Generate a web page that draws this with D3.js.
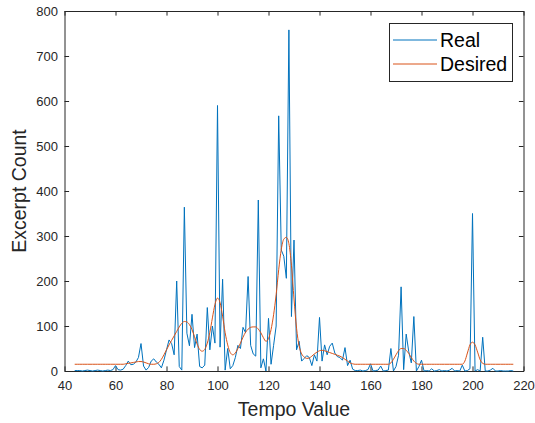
<!DOCTYPE html>
<html lang="en">
<head>
    <meta charset="UTF-8">
    <title>Tempo histogram</title>
    <script src="https://cdn.jsdelivr.net/npm/d3@7"></script>
    <style>
        body { margin: 0; background: #fff; }
        svg { display: block; font-family: Arial, "Liberation Sans", sans-serif; }
        .tick text { font-size: 13px; fill: #262626; }
    </style>
</head>
<body>
    <div id="chart"></div>
    <script>
        const w = 535;
        const h = 423;
        const margin = { top: 11, right: 11.5, bottom: 52, left: 64.5 };

        // tempo values (x), one per bpm
        const tempos = [
            44, 45, 46, 47, 48, 49, 50, 51, 52, 53,
            54, 55, 56, 57, 58, 59, 60, 61, 62, 63,
            64, 65, 66, 67, 68, 69, 70, 71, 72, 73,
            74, 75, 76, 77, 78, 79, 80, 81, 82, 83,
            84, 85, 86, 87, 88, 89, 90, 91, 92, 93,
            94, 95, 96, 97, 98, 99, 100, 101, 102, 103,
            104, 105, 106, 107, 108, 109, 110, 111, 112, 113,
            114, 115, 116, 117, 118, 119, 120, 121, 122, 123,
            124, 125, 126, 127, 128, 129, 130, 131, 132, 133,
            134, 135, 136, 137, 138, 139, 140, 141, 142, 143,
            144, 145, 146, 147, 148, 149, 150, 151, 152, 153,
            154, 155, 156, 157, 158, 159, 160, 161, 162, 163,
            164, 165, 166, 167, 168, 169, 170, 171, 172, 173,
            174, 175, 176, 177, 178, 179, 180, 181, 182, 183,
            184, 185, 186, 187, 188, 189, 190, 191, 192, 193,
            194, 195, 196, 197, 198, 199, 200, 201, 202, 203,
            204, 205, 206, 207, 208, 209, 210, 211, 212, 213,
            214, 215, 216
        ];

        // excerpt counts, real
        const real = [
            1, 1, 1, 0, 1, 2, 1, 0, 1, 2,
            1, 0, 1, 2, 1, 3, 12, 3, 2, 4,
            12, 22, 14, 15, 20, 30, 61, 11, 2, 8,
            22, 27, 20, 15, 7, 24, 47, 69, 61, 36,
            200, 10, 2, 364, 84, 56, 126, 52, 82, 10,
            7, 13, 141, 47, 100, 62, 590, 53, 204, 2,
            50, 5, 12, 30, 57, 50, 97, 85, 210, 57,
            38, 33, 380, 7, 27, 0, 117, 15, 57, 100,
            567, 269, 255, 206, 758, 121, 291, 47, 66, 22,
            28, 34, 30, 12, 36, 22, 119, 22, 58, 36,
            55, 62, 40, 32, 30, 24, 52, 12, 24, 4,
            1, 1, 2, 0, 1, 3, 16, 0, 1, 2,
            11, 0, 1, 2, 50, 0, 10, 35, 187, 3,
            82, 43, 18, 121, 0, 10, 24, 0, 1, 0,
            5, 0, 1, 3, 0, 1, 0, 2, 6, 0,
            1, 0, 13, 0, 1, 5, 350, 0, 3, 0,
            75, 0, 0, 2, 6, 0, 0, 1, 0, 0,
            0, 1, 0
        ];

        // excerpt counts, desired
        const desired = [
            15, 15, 15, 15, 15, 15, 15, 15, 15, 15,
            15, 15, 15, 15, 15, 15, 15, 15, 15, 15,
            16, 17, 18, 19, 20, 21, 21, 20, 18, 16,
            15, 15, 16, 19, 26, 36, 47, 58, 68, 78,
            88, 98, 106, 110, 109, 103, 92, 76, 60, 48,
            44, 48, 62, 86, 118, 148, 162, 152, 122, 85,
            58, 41, 36, 40, 50, 62, 75, 86, 93, 97,
            98, 98, 93, 85, 74, 66, 72, 92, 125, 170,
            225, 270, 293, 297, 283, 235, 160, 95, 56, 38,
            31, 28, 29, 33, 38, 42, 45, 46, 45, 43,
            41, 39, 37, 35, 33, 30, 26, 22, 18, 16,
            15, 15, 15, 15, 15, 15, 15, 15, 15, 15,
            15, 15, 15, 15, 18, 26, 36, 45, 50, 50,
            46, 39, 30, 22, 17, 15, 15, 15, 15, 15,
            15, 15, 15, 15, 15, 15, 15, 15, 15, 15,
            15, 15, 15, 22, 40, 58, 64, 58, 42, 25,
            17, 15, 15, 15, 15, 15, 15, 15, 15, 15,
            15, 15, 15
        ];

        const xTicks = [40, 60, 80, 100, 120, 140, 160, 180, 200, 220];
        const yTicks = [0, 100, 200, 300, 400, 500, 600, 700, 800];
        const seriesNames = ["Real", "Desired"];
        const seriesColors = ["#0072BD", "#D95319"];

        const axisColor = "#262626";
        const tickLen = 4.6;

        const x = d3.scaleLinear().domain([40, 220]).range([margin.left, w - margin.right]);
        const y = d3.scaleLinear().domain([0, 800]).range([h - margin.bottom, margin.top]);

        const svg = d3.select("#chart")
            .append("svg")
            .attr("width", w)
            .attr("height", h);

        svg.append("rect").attr("width", w).attr("height", h).attr("fill", "#fff");

        // axes, MATLAB box style with ticks inside on all four sides
        const styleAxis = g => {
            g.select(".domain").attr("stroke", axisColor).attr("stroke-width", 1);
            g.selectAll(".tick line").attr("stroke", axisColor).attr("stroke-width", 1);
        };

        svg.append("g")
            .attr("transform", `translate(0,${h - margin.bottom})`)
            .call(d3.axisBottom(x).tickValues(xTicks).tickSizeInner(-tickLen).tickSizeOuter(0).tickPadding(10))
            .call(styleAxis)
            .call(g => g.selectAll(".tick text").attr("dy", "0.71em"));

        svg.append("g")
            .attr("transform", `translate(0,${margin.top})`)
            .call(d3.axisTop(x).tickValues(xTicks).tickSizeInner(-tickLen).tickSizeOuter(0).tickFormat(""))
            .call(styleAxis);

        svg.append("g")
            .attr("transform", `translate(${margin.left},0)`)
            .call(d3.axisLeft(y).tickValues(yTicks).tickSizeInner(-tickLen).tickSizeOuter(0).tickPadding(6.5))
            .call(styleAxis);

        svg.append("g")
            .attr("transform", `translate(${w - margin.right},0)`)
            .call(d3.axisRight(y).tickValues(yTicks).tickSizeInner(-tickLen).tickSizeOuter(0).tickFormat(""))
            .call(styleAxis);

        svg.selectAll(".tick text").attr("font-family", null).attr("font-size", null);

        // lines
        const realLine = d3.line()
            .x((d, i) => x(tempos[i]))
            .y(d => y(d));

        const desiredLine = d3.line()
            .x((d, i) => x(tempos[i]))
            .y(d => y(d))
            .curve(d3.curveMonotoneX);

        svg.append("path")
            .datum(real)
            .attr("fill", "none")
            .attr("stroke", seriesColors[0])
            .attr("stroke-width", 1)
            .attr("stroke-linejoin", "round")
            .attr("d", realLine);

        svg.append("path")
            .datum(desired)
            .attr("fill", "none")
            .attr("stroke", seriesColors[1])
            .attr("stroke-width", 1)
            .attr("d", desiredLine);

        // axis labels
        svg.append("text")
            .attr("x", (margin.left + w - margin.right) / 2)
            .attr("y", 416)
            .attr("text-anchor", "middle")
            .attr("font-size", 19.5)
            .attr("fill", axisColor)
            .text("Tempo Value");

        svg.append("text")
            .attr("transform", `translate(25.5,${(margin.top + h - margin.bottom) / 2}) rotate(-90)`)
            .attr("text-anchor", "middle")
            .attr("font-size", 19.5)
            .attr("fill", axisColor)
            .text("Excerpt Count");

        // legend
        const legend = svg.append("g");

        legend.append("rect")
            .attr("x", 389.5)
            .attr("y", 23.5)
            .attr("width", 123)
            .attr("height", 58)
            .attr("fill", "#fff")
            .attr("stroke", axisColor)
            .attr("stroke-width", 1);

        const item = legend.selectAll("g.item")
            .data(seriesNames)
            .join("g")
            .attr("class", "item")
            .attr("transform", (d, i) => `translate(0,${40 + i * 24})`);

        item.append("line")
            .attr("x1", 393)
            .attr("x2", 437)
            .attr("stroke", (d, i) => seriesColors[i])
            .attr("stroke-width", 1);

        item.append("text")
            .attr("x", 440)
            .attr("dy", "0.35em")
            .attr("font-size", 19.5)
            .attr("fill", "#000")
            .text(d => d);
    </script>
</body>
</html>
